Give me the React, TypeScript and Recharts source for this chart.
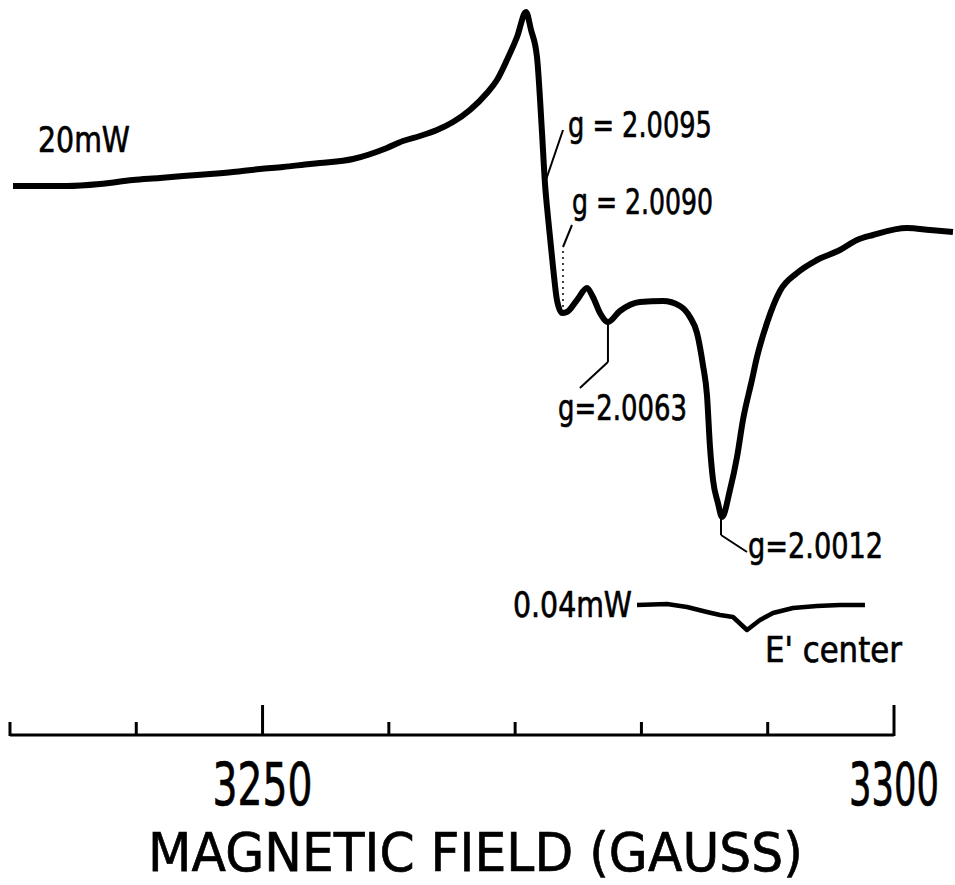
import { LineChart, Line, XAxis, YAxis, ReferenceLine, ReferenceDot } from 'recharts';

// 20 mW trace: magnetic field (G) and derivative signal (a.u.)
const field20 = [
  3230.24, 3232.38, 3234.51, 3237.13, 3239.74, 3241.88, 3243.7, 3245.84, 3247.66, 3249.8,
  3251.62, 3253.76, 3254.55, 3257.16, 3259.85, 3261.12, 3262.46, 3263.81, 3265.08, 3266.42,
  3267.77, 3268.56, 3269.35, 3270.15, 3270.86, 3271.26, 3271.73, 3272.13, 3272.36, 3272.6,
  3273.0, 3273.31, 3273.71, 3274.1, 3274.9, 3275.69, 3276.16, 3276.72, 3277.35, 3278.3,
  3279.88, 3281.71, 3283.05, 3283.84, 3284.4, 3284.87, 3285.19, 3285.43, 3285.67, 3286.06,
  3286.38, 3287.01, 3287.57, 3288.04, 3288.75, 3289.15, 3289.94, 3290.97, 3292.32, 3293.9,
  3295.72, 3297.07, 3298.33, 3301.03, 3302.85, 3304.67,
];
const signal20 = [
  -0.1, -0.1, -0.1, 0.1, 0.5, 0.7, 0.9, 1.1, 1.3, 1.6,
  1.8, 2.1, 2.2, 2.6, 3.7, 4.4, 4.9, 5.5, 6.3, 7.5,
  9.2, 10.5, 12.5, 14.8, 17.3, 15.5, 12.8, 5.2, 0.2, -3.2,
  -8.2, -11.5, -12.8, -12.7, -11.5, -10.3, -11.2, -12.8, -13.7, -12.6,
  -11.7, -11.6, -12.1, -13.2, -14.8, -18.0, -21.0, -26.2, -29.5, -31.8,
  -33.2, -30.5, -27.2, -23.5, -19.5, -17.2, -13.8, -10.6, -8.8, -7.5,
  -6.5, -5.5, -5.0, -4.3, -4.5, -4.7,
];

// 0.04 mW trace (E' center), relative to its own baseline
const field004 = [3279.65, 3282.02, 3283.61, 3285.19, 3286.22, 3287.25, 3288.36, 3289.39, 3290.42, 3292.0, 3293.9, 3295.72, 3297.7];
const signal004 = [0, 0.1, -0.2, -0.7, -1.0, -1.2, -2.5, -1.5, -0.8, -0.3, -0.1, 0, 0];
const offset004 = -42;

const fieldTicks = [3230, 3240, 3250, 3260, 3270, 3280, 3290, 3300];
const labelledTicks = [3250, 3300];

// annotation texts and where they sit (field, signal)
const noteTexts = ['20mW', 'g = 2.0095', 'g = 2.0090', 'g=2.0063', 'g=2.0012', '0.04mW', "E' center"];
const noteField = [3232.22, 3274.18, 3274.5, 3273.39, 3288.44, 3269.83, 3289.78];
const noteSignal = [3.3, 4.8, -2.9, -23.5, -37.3, -43.2, -47.7];
const noteWidth = [92, 144, 141, 129, 135, 119, 137];

// leader lines from peaks to labels
const leaders = [
  { from: [3272.36, 0.2], to: [3273.79, 5.5], dashed: false },
  { from: [3273.79, -12.2], to: [3273.79, -6.2], dashed: true },
  { from: [3273.79, -6.2], to: [3274.5, -4.0], dashed: false },
  { from: [3277.35, -13.7], to: [3277.35, -17.7], dashed: false },
  { from: [3277.35, -17.7], to: [3275.13, -20.3], dashed: false },
  { from: [3286.3, -33.2], to: [3286.3, -35.0], dashed: false },
  { from: [3286.3, -35.0], to: [3288.36, -36.7], dashed: false },
];

const data20 = field20.map((f, i) => ({ field: f, signal: signal20[i] }));
const data004 = field004.map((f, i) => ({ field: f, signal: signal004[i] + offset004 }));

const FONT = "'DejaVu Sans', sans-serif";

let measureCtx: CanvasRenderingContext2D | null = null;
function textWidth(text: string, size: number) {
  if (!measureCtx) measureCtx = document.createElement('canvas').getContext('2d');
  if (!measureCtx) return text.length * size * 0.6;
  measureCtx.font = `${size}px 'DejaVu Sans', sans-serif`;
  return measureCtx.measureText(text).width;
}

// squeezed lettering, like the stencil text of the original
function Lettering({ x, y, text, size, width, anchor = 'start' }: any) {
  const sx = width / textWidth(text, size);
  return (
    <text
      transform={`translate(${x} ${y}) scale(${sx} 1)`}
      textAnchor={anchor}
      fontSize={size}
      fontFamily={FONT}
      fill="#000"
      stroke="#000"
      strokeWidth={0.7}
    >
      {text}
    </text>
  );
}

function FieldTick({ x, y, payload }: any) {
  const major = labelledTicks.includes(payload.value);
  return (
    <g>
      <line x1={x} x2={x} y1={y + 1} y2={y - (major ? 30 : 13)} stroke="#000" strokeWidth={3} />
      {major && (
        <Lettering
          x={x}
          y={y + 70}
          text={String(payload.value)}
          size={58}
          width={payload.value === 3300 ? 90 : 100}
          anchor="middle"
        />
      )}
    </g>
  );
}

function AxisTitle({ viewBox }: any) {
  return (
    <Lettering
      x={viewBox.x + viewBox.width / 2 - 2}
      y={viewBox.y + 136}
      text="MAGNETIC FIELD (GAUSS)"
      size={54}
      width={655}
      anchor="middle"
    />
  );
}

function NoteText({ viewBox, text, width }: any) {
  return <Lettering x={viewBox.x} y={viewBox.y} text={text} size={35} width={width} />;
}

export default function App() {
  return (
    <div style={{ position: 'absolute', left: 0, top: 0, width: 955, height: 885, background: '#fff' }}>
      <LineChart width={955} height={885} margin={{ top: 0, right: 0, bottom: 0, left: 0 }}>
        <XAxis
          type="number"
          dataKey="field"
          domain={[3229.21, 3304.83]}
          allowDataOverflow
          ticks={fieldTicks}
          interval={0}
          tick={<FieldTick />}
          tickLine={false}
          axisLine={false}
          tickSize={0}
          tickMargin={0}
          height={150}
          label={<AxisTitle />}
        />
        <YAxis type="number" hide domain={[-55, 18.5]} allowDataOverflow />
        <ReferenceLine
          segment={[{ x: 3230, y: -55 }, { x: 3300, y: -55 }]}
          stroke="#000"
          strokeWidth={3}
          ifOverflow="visible"
        />
        {leaders.map((l, i) => (
          <ReferenceLine
            key={`leader-${i}`}
            segment={[{ x: l.from[0], y: l.from[1] }, { x: l.to[0], y: l.to[1] }]}
            stroke="#000"
            strokeWidth={l.dashed ? 1.5 : 2}
            strokeDasharray={l.dashed ? '2 4' : undefined}
            ifOverflow="visible"
          />
        ))}
        <Line
          data={data20}
          dataKey="signal"
          type="monotone"
          stroke="#000"
          strokeWidth={6}
          strokeLinejoin="round"
          dot={false}
          activeDot={false}
          isAnimationActive={false}
        />
        <Line
          data={data004}
          dataKey="signal"
          type="linear"
          stroke="#000"
          strokeWidth={4.5}
          strokeLinejoin="round"
          dot={false}
          activeDot={false}
          isAnimationActive={false}
        />
        {noteTexts.map((t, i) => (
          <ReferenceDot
            key={`note-${i}`}
            x={noteField[i]}
            y={noteSignal[i]}
            r={0}
            fill="none"
            stroke="none"
            ifOverflow="visible"
            label={<NoteText text={t} width={noteWidth[i]} />}
          />
        ))}
      </LineChart>
    </div>
  );
}
